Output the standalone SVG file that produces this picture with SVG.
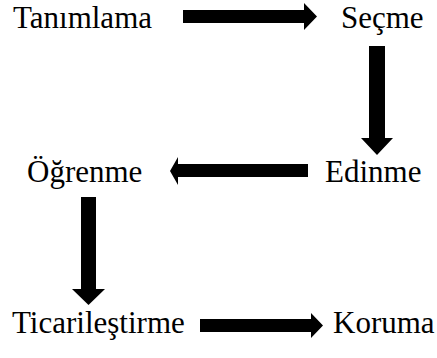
<svg xmlns="http://www.w3.org/2000/svg" width="437" height="358" viewBox="0 0 437 358">
<style>
text{font-family:'Liberation Serif','Tinos','DejaVu Serif','Noto Serif',serif;font-size:31px;fill:#000}
.a{fill:#000}
</style>
<rect width="437" height="358" fill="#fff"/>
<g id="tanimlama"><text x="13" y="28">Tanımlama</text></g>
<g id="secme"><text x="341" y="28">Seçme</text></g>
<g id="edinme"><text x="325" y="182">Edinme</text></g>
<g id="ogrenme"><text x="27" y="182">Öğrenme</text></g>
<g id="ticarilestirme"><text x="12" y="333">Ticarileştirme</text></g>
<g id="koruma"><text x="333" y="333">Koruma</text></g>
<g id="connectors">
<polygon class="a" points="183,10 304,10 304,3 317,16.5 304,30 304,23 183,23"/>
<polygon class="a" points="369,46 385,46 385,138 393,138 377,155 361,138 369,138"/>
<polygon class="a" points="308,164 178,164 178,157 170,171 178,185 178,177 308,177"/>
<polygon class="a" points="81,197 96,197 96,289 105,289 88.5,305 72,289 81,289"/>
<polygon class="a" points="200,319 311,319 311,313 323,325.5 311,338 311,332 200,332"/>
</g>
</svg>
